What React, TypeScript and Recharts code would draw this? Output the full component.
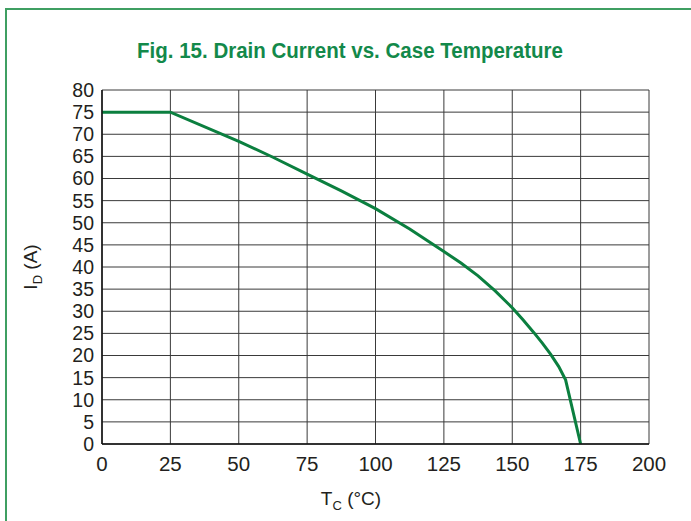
import { CartesianGrid, Label, Line, LineChart, XAxis, YAxis } from "recharts";

// Case temperature (°C) and max drain current (A)
const caseTemp = [
  0, 25, 50, 62.5, 75, 87.5, 100, 112.5, 125, 131.25, 137.5, 143.75, 150, 154, 158, 161, 164,
  167, 169.5, 175,
];
const drainCurrent = [
  75, 75, 68.4, 64.8, 61, 57.2, 53.2, 48.6, 43.5, 40.9, 38, 34.6, 30.8, 28, 25.1, 22.8, 20.3,
  17.5, 14.5, 0,
];

const xTicks = [0, 25, 50, 75, 100, 125, 150, 175, 200];
const yTicks = [0, 5, 10, 15, 20, 25, 30, 35, 40, 45, 50, 55, 60, 65, 70, 75, 80];

const data = caseTemp.map((t, i) => ({ t, id: drainCurrent[i] }));

const GREEN = "#0b7f3f";
const FONT = "'Liberation Sans', Arial, Helvetica, sans-serif";
const xTickStyle = { fill: "#231f20", fontSize: 20.5, fontFamily: FONT };
const yTickStyle = { fill: "#231f20", fontSize: 19.5, fontFamily: FONT };

function XTitle() {
  return (
    <text x={351} y={505} textAnchor="middle" fill="#231f20" fontSize={19} fontFamily={FONT}>
      T
      <tspan dy={5} fontSize={13}>C</tspan>
      <tspan dy={-5}> (°C)</tspan>
    </text>
  );
}

function YTitle() {
  return (
    <text
      x={0}
      y={0}
      transform="translate(37 267) rotate(-90)"
      textAnchor="middle"
      fill="#231f20"
      fontSize={19}
      fontFamily={FONT}
    >
      I
      <tspan dy={5} fontSize={13}>D</tspan>
      <tspan dy={-5}> (A)</tspan>
    </text>
  );
}

export default function App() {
  return (
    <div
      style={{
        position: "absolute",
        left: 0,
        top: 0,
        width: 691,
        height: 521,
        overflow: "hidden",
        background: "#fff",
      }}
    >
      <div
        style={{
          position: "absolute",
          left: 5,
          top: 8,
          width: 720,
          height: 560,
          border: "2px solid #3f9f62",
        }}
      />
      <svg
        width={691}
        height={80}
        style={{ position: "absolute", left: 0, top: 0 }}
      >
        <text
          x={137}
          y={58}
          textLength={426}
          lengthAdjust="spacingAndGlyphs"
          fill="#13894a"
          fontFamily={FONT}
          fontWeight={700}
          fontSize={22}
        >
          Fig. 15. Drain Current vs. Case Temperature
        </text>
      </svg>
      <LineChart
        width={691}
        height={521}
        data={data}
        margin={{ top: 90, right: 42, bottom: 27, left: 42 }}
        style={{ position: "absolute", left: 0, top: 0 }}
      >
        <CartesianGrid stroke="#3a3a3a" strokeWidth={1} />
        <XAxis
          type="number"
          dataKey="t"
          domain={[0, 200]}
          ticks={xTicks}
          interval={0}
          tickLine={false}
          tickMargin={6}
          height={50}
          axisLine={{ stroke: "#111", strokeWidth: 1.5 }}
          tick={xTickStyle}
        >
          <Label content={() => <XTitle />} />
        </XAxis>
        <YAxis
          type="number"
          domain={[0, 80]}
          ticks={yTicks}
          interval={0}
          tickLine={false}
          width={60}
          axisLine={{ stroke: "#111", strokeWidth: 1.5 }}
          tick={yTickStyle}
        >
          <Label content={() => <YTitle />} />
        </YAxis>
        <Line
          type="linear"
          dataKey="id"
          stroke={GREEN}
          strokeWidth={3}
          dot={false}
          isAnimationActive={false}
        />
      </LineChart>
    </div>
  );
}
